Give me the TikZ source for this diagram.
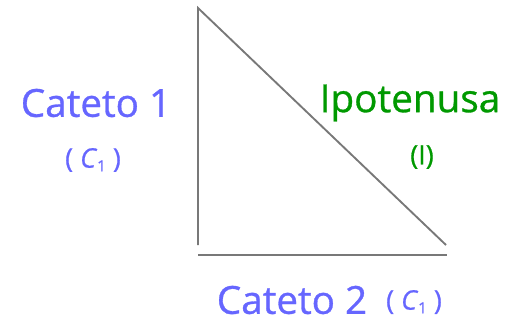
\documentclass[tikz,border=0pt]{standalone}
\usepackage{fontspec}
\setmainfont{Open Sans}
\newfontfamily\labelfont{Open Sans}[FakeBold=0.8]
\definecolor{catblue}{RGB}{102,102,255}
\definecolor{ipgreen}{RGB}{0,153,0}
\definecolor{leggray}{RGB}{120,120,120}
\tikzset{
  leg/.style={draw=leggray, line width=1.6pt},
  big/.style={font=\labelfont\fontsize{33}{36}\selectfont, inner sep=0pt},
  small/.style={font=\labelfont\fontsize{23}{26}\selectfont, inner sep=0pt},
}
\newcommand{\cone}{( \textit{C}\raisebox{-0.25ex}{\fontsize{13}{14}\selectfont 1} )}

\begin{document}
\begin{tikzpicture}[x=0.03cm, y=-0.03cm]
  \useasboundingbox (0,0) rectangle (511,324);
  \coordinate (top) at (198,8);
  \coordinate (corner) at (198,245);
  \coordinate (tip) at (446,245);
  \coordinate (baseL) at (198,255);
  \coordinate (baseR) at (447,255);
  \draw[leg] (corner) -- (top) -- (tip);
  \draw[leg] (baseL) -- (baseR);
  % labels of the legs
  \node[big, text=catblue] (c1) at (96,103) {Cateto 1};
  \node[small, text=catblue] (c1s) at (93,160) {\cone};
  \node[big, text=ipgreen] (ip) at (410,103) {Ipotenusa};
  \node[small, text=ipgreen] (ips) at (422,157) {(I)};
  \node[big, text=catblue] (c2) at (292,300) {Cateto 2};
  \node[small, text=catblue] (c2s) at (414,302) {\cone};
\end{tikzpicture}
\end{document}
